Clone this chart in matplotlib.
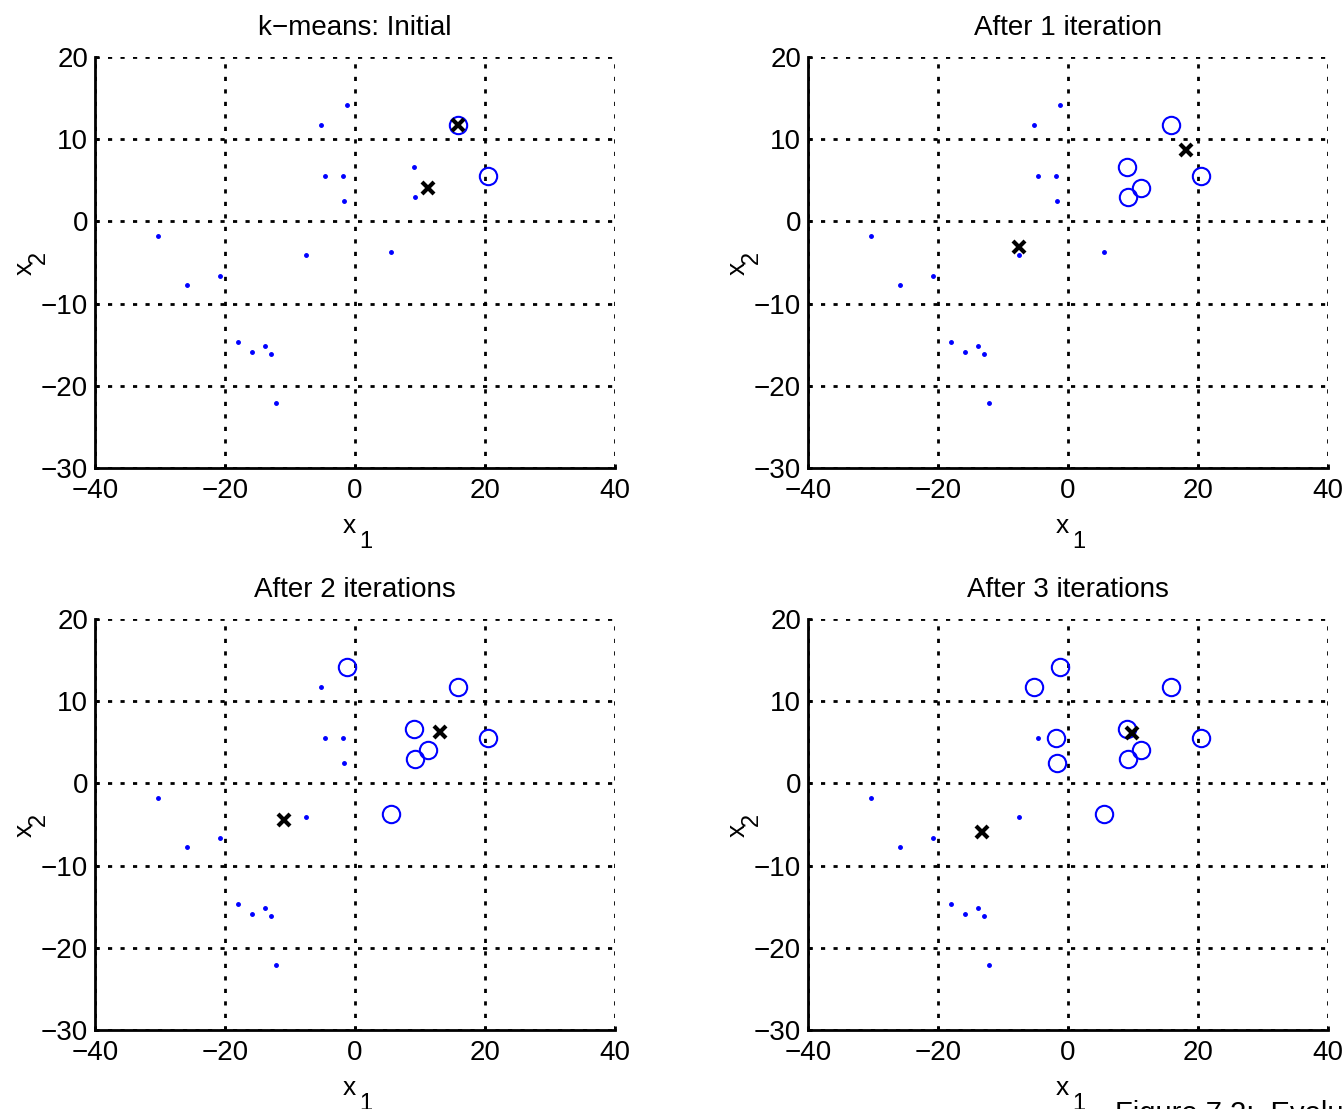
import matplotlib
matplotlib.use("Agg")
import matplotlib.pyplot as plt
import numpy as np

plt.rcParams['font.family'] = ['Liberation Sans', 'DejaVu Sans']

# data points
x1 = [-1.2, -5.2, -4.55, -1.85, -1.7, 9.1, 9.2, 11.2, 15.9, 20.4,
      5.6, -7.5, -30.3, -20.7, -25.8, -18.0, -15.9, -13.8, -13.0, -12.1]
x2 = [14.15, 11.7, 5.5, 5.5, 2.5, 6.65, 3.0, 4.1, 11.7, 5.5,
      -3.7, -4.05, -1.75, -6.6, -7.7, -14.7, -15.9, -15.2, -16.1, -22.1]

titles = ["k\u2212means: Initial", "After 1 iteration", "After 2 iterations", "After 3 iterations"]

# cluster membership (1 = circle cluster, 0 = dot cluster)
labels_init = [0, 0, 0, 0, 0, 0, 0, 0, 1, 1, 0, 0, 0, 0, 0, 0, 0, 0, 0, 0]
labels_it1  = [0, 0, 0, 0, 0, 1, 1, 1, 1, 1, 0, 0, 0, 0, 0, 0, 0, 0, 0, 0]
labels_it2  = [1, 0, 0, 0, 0, 1, 1, 1, 1, 1, 1, 0, 0, 0, 0, 0, 0, 0, 0, 0]
labels_it3  = [1, 1, 0, 1, 1, 1, 1, 1, 1, 1, 1, 0, 0, 0, 0, 0, 0, 0, 0, 0]

# centroids
cx_init = [15.9, 11.2];  cy_init = [11.7, 4.1]
cx_it1  = [18.2, -7.5];  cy_it1  = [8.7, -3.1]
cx_it2  = [13.1, -11.0]; cy_it2  = [6.3, -4.4]
cx_it3  = [9.9, -13.2];  cy_it3  = [6.1, -5.9]

xticks = [-40, -20, 0, 20, 40]
yticks = [-30, -20, -10, 0, 10, 20]

W, H = 1344, 1109
fig = plt.figure(figsize=(W / 100, H / 100), dpi=100)

# axes boxes in pixels: left, top, right, bottom
boxes = [(95, 57, 615, 468), (808, 57, 1328, 468),
         (95, 619, 615, 1030), (808, 619, 1328, 1030)]
all_labels = [labels_init, labels_it1, labels_it2, labels_it3]
all_cx = [cx_init, cx_it1, cx_it2, cx_it3]
all_cy = [cy_init, cy_it1, cy_it2, cy_it3]

def fx(px):
    return px / W

def fy(py):
    return 1 - py / H

FS = 20
xa = np.array(x1); ya = np.array(x2)
for i, (l, t, r, b) in enumerate(boxes):
    ax = fig.add_axes([l / W, 1 - b / H, (r - l) / W, (b - t) / H])
    lab = np.array(all_labels[i])
    ax.plot(xa[lab == 0], ya[lab == 0], '.', color='blue', markersize=5, zorder=3)
    ax.plot(xa[lab == 1], ya[lab == 1], 'o', markerfacecolor='none',
            markeredgecolor='blue', markersize=12.5, markeredgewidth=1.5, zorder=3)
    ax.plot(all_cx[i], all_cy[i], 'x', color='black', markersize=8,
            markeredgewidth=3, zorder=4)
    ax.set_xlim(-40, 40)
    ax.set_ylim(-30, 20)
    ax.set_xticks(xticks)
    ax.set_yticks(yticks)
    ax.set_xticklabels([str(v).replace('-', '\u2212') for v in xticks], fontsize=FS)
    ax.set_yticklabels([str(v).replace('-', '\u2212') for v in yticks], fontsize=FS)
    ax.tick_params(direction='in', length=3, width=2, top=False, right=False)
    ax.tick_params(axis='x', pad=7)
    ax.tick_params(axis='y', pad=5)
    for s in ['top', 'right']:
        ax.spines[s].set_visible(False)
    for s in ['left', 'bottom']:
        ax.spines[s].set_linewidth(2)
    ax.grid(True, color='black', linewidth=2, linestyle=(0, (1.5, 3)))
    ax.set_axisbelow(True)
    ax.set_title(titles[i], fontsize=FS, pad=16)

    # x label: "x" with subscript "1"
    cxp = (l + r) / 2
    fig.text(fx(cxp + 1), fy(b + 65), "x", fontsize=19, ha='right', va='baseline')
    fig.text(fx(cxp + 4), fy(b + 80), "1", fontsize=17, ha='left', va='baseline')
    # y label: rotated "x" with subscript "2"
    cyp = (t + b) / 2
    fig.text(fx(l - 63), fy(cyp - 1), "x", fontsize=19, rotation=90,
             rotation_mode='anchor', ha='right', va='baseline')
    fig.text(fx(l - 50), fy(cyp + 2), "2", fontsize=17, rotation=90,
             rotation_mode='anchor', ha='left', va='baseline')

fig.text(1115 / W, 1 - 1122 / H, "Figure 7.2:  Evolution of the k-means algorithm",
         fontsize=21, ha='left', va='baseline')

fig.savefig("out.png", dpi=100)
